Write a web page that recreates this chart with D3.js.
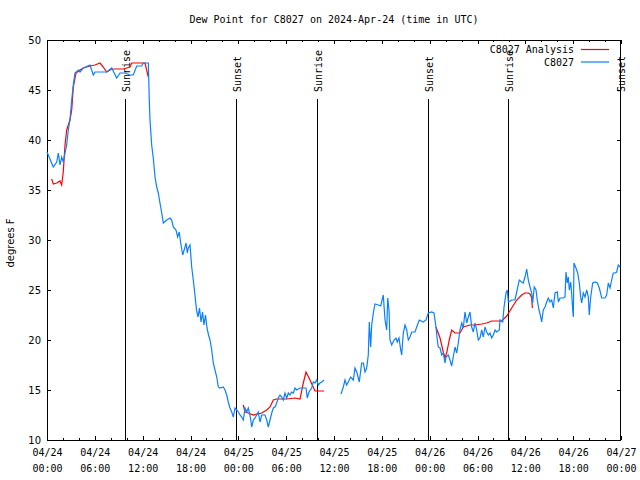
<!DOCTYPE html>
<html>
<head>
<meta charset="utf-8">
<script src="https://cdn.jsdelivr.net/npm/d3@7"></script>
<style>
  html, body { margin: 0; padding: 0; background: #fff; }
  svg { display: block; }
  .mono { font-family: "DejaVu Sans Mono", "Liberation Mono", monospace; font-size: 10px; }
  .sans { font-family: "DejaVu Sans", "Liberation Sans", sans-serif; font-size: 10px; }
</style>
</head>
<body>
<svg id="chart" width="640" height="480"></svg>
<script>
// ---- data (hours since 2024-04-24 00:00 UTC) ----
const startUTC = Date.UTC(2024, 3, 24, 0, 0);
const spanHours = 72;

const obsHours = [
  0, 0.79, 1.22, 1.42, 1.63, 1.84, 2.04, 2.26, 2.47, 2.67,
  2.88, 3.10, 3.30, 3.51, 3.93, 4.14, 4.55, 5.39, 5.81, 6.02,
  7.49, 8.12, 8.74, 9.16, 9.78, 10.41, 10.82, 11.25, 11.88, 12.08,
  12.71, 12.83, 12.92, 13.13, 13.33, 13.55, 13.76, 13.96, 14.17, 14.39,
  14.59, 15.01, 15.43, 15.64, 15.84, 16.18, 16.39, 16.59, 16.77, 17.02,
  17.31, 17.44, 17.60, 17.72, 17.94, 18.15, 18.35, 18.56, 18.75, 18.94,
  19.13, 19.32, 19.51, 19.69, 19.88, 20.07, 20.26, 20.45, 20.66, 20.86,
  21.07, 21.29, 21.49, 21.70, 22.11, 22.33, 22.54, 22.74, 22.95, 23.17,
  23.37, 23.58, 23.80, 24.00, 24.21, 24.42, 24.62, 24.84, 25.05, 25.25,
  25.46, 25.68, 25.88, 26.09, 26.30, 26.50, 26.72, 26.93, 27.34, 27.56,
  27.76, 27.97, 28.19, 28.39, 28.60, 28.81, 29.01, 29.23, 29.44, 29.64,
  29.85, 30.07, 30.27, 30.48, 30.69, 30.90, 31.11, 31.32, 31.74, 32.15,
  32.49, 32.65, 32.86, 33.20, 33.40, 33.62, 33.83, 34.03, 34.24, 34.46,
  34.75, 35.80,
  36.88, 37.17, 37.38, 37.59, 37.79, 38.09, 38.42, 38.63, 38.85, 39.05,
  39.17, 39.47, 39.68, 39.89, 40.10, 40.30, 40.43, 40.60, 40.73, 40.93,
  41.14, 41.56, 41.86, 42.18, 42.40, 42.61, 42.74, 42.90, 43.02, 43.24,
  43.53, 43.78, 43.94, 44.15, 44.37, 44.49, 44.69, 44.91, 45.12, 45.32,
  45.53, 45.75, 46.16, 46.37, 46.70, 47.20, 47.54, 47.83, 48.25, 48.54,
  48.79, 48.96, 49.08, 49.30, 49.51, 49.71, 49.92, 50.05, 50.34, 50.55,
  50.76, 50.96, 51.18, 51.39, 51.59, 51.80, 52.02, 52.22, 52.43, 52.65,
  52.85, 53.06, 53.27, 53.47, 53.69, 53.90, 54.10, 54.31, 54.53, 54.73,
  54.94, 55.15, 55.36, 55.57, 55.78, 55.98, 56.20, 56.41, 56.74, 56.82,
  57.16, 57.33, 57.58, 57.74, 57.87, 58.29, 58.70, 58.92, 59.24, 59.54,
  59.74, 59.96, 60.17, 60.37, 60.59, 60.80, 60.92, 61.12, 61.34, 61.50,
  61.71, 61.93, 62.05, 62.25, 62.47, 62.68, 62.88, 63.09, 63.31, 63.51,
  63.72, 64.01, 64.14, 64.35, 64.76, 64.98, 65.10, 65.26, 65.39, 65.52,
  65.69, 65.82, 65.94, 66.02, 66.10, 66.35, 66.57, 66.77, 66.94, 67.07,
  67.27, 67.48, 67.70, 67.90, 68.02, 68.20, 68.45, 68.74, 69.03, 69.28,
  69.58, 69.99, 70.20, 70.41, 70.62, 70.83, 71.03, 71.25, 71.46, 71.66,
  71.87
];
const obsDewPoint = [
  38.8, 37.3, 37.8, 38.7, 37.5, 38.3, 37.8, 38.7, 39.5, 41,
  42, 44, 45.5, 46.7, 47, 46.8, 47.2, 47.5, 46.5, 46.8,
  46.8, 47.2, 46.2, 46.7, 46.7, 46.5, 46.5, 47.4, 47.4, 47.7,
  47.7, 44, 42, 39.5, 38.2, 36.3, 35.3, 34.7, 33.7, 32.7,
  31.7, 32, 32.2, 32, 31.3, 31, 30.3, 30.8, 29.7, 28.5,
  29.3, 29.7, 28.7, 29.2, 29.5, 27.3, 26, 24.5, 23, 22.3,
  23.2, 21.8, 22.8, 21.5, 22.5, 21.2, 20.5, 20, 19, 17.7,
  17, 16.3, 15.3, 15.2, 15.3, 15, 14.5, 13.8, 13.2, 12.8,
  12.3, 13.2, 13, 12.8, 12.5, 12.3, 12, 13.2, 12.8, 13.2,
  12.5, 11.3, 12, 12.2, 12.5, 12.8, 11.8, 12.5, 12.5, 12,
  11.3, 12, 12.7, 13.2, 13.3, 13.7, 14.2, 14.5, 14.3, 14,
  14.7, 14.2, 14.7, 14.5, 14.8, 14.7, 15.2, 15, 15.2, 15.2,
  15.2, 14.2, 14.8, 15.2, 15.8, 15.7, 16, 15.5, 15.7, 15.8,
  16, null,
  14.6, 15.3, 16, 15.5, 15.8, 16.3, 16, 17.2, 16.8, 16.2,
  15.8, 17.7, 17.7, 16.8, 17.2, 18.5, 21.8, 19.3, 21.5, 22.7,
  23.6, 23.5, 23.4, 24.5, 22, 21, 24.2, 23, 20, 19.5,
  20, 20.2, 19.8, 20.2, 19, 18.5, 20.7, 21.5, 21, 20,
  20.3, 20.8, 20.8, 21.3, 22, 21.8, 22, 22.7, 22.8, 22.7,
  21.3, 20, 19.3, 19.2, 18.5, 18.7, 17.7, 18.3, 18.5, 18,
  17.4, 18.3, 19.3, 18.7, 19.7, 21, 21.7, 21.2, 22.8, 21.7,
  22.3, 22.8, 21.3, 20.8, 21.7, 21, 20, 20.2, 21, 20.3,
  21.3, 20.8, 20.5, 20.7, 20.2, 20.5, 21, 20.8, 21, 22,
  21.8, 23.3, 24.7, 25, 23.8, 24, 24, 24.8, 26, 25.8,
  25.7, 26.3, 27.1, 26, 25.3, 24.7, 23.7, 25.3, 25, 24,
  23, 22.3, 21.8, 23, 23.3, 23.8, 24.2, 23.8, 24, 23.2,
  24.7, 24.8, 23.8, 24.2, 24.2, 24.3, 26.8, 25.7, 26.3, 25,
  25.8, 24.5, 23, 22.3, 27.7, 27.2, 26.7, 25.7, 24.3, 23.7,
  24.7, 24.3, 25, 24.3, 22.5, 24.3, 25.7, 25.8, 25.7, 25.2,
  24.2, 24.2, 24.5, 25.7, 25.2, 26, 26.7, 26.7, 26.8, 27.5,
  27.3
];

const anaHours = [
  0.59, 0.79, 1.22, 1.63, 1.84, 2.04, 2.26, 2.47, 2.88, 3.10,
  3.30, 3.64, 4.14, 4.55, 5.39, 6.02, 6.65, 7.06, 7.49, 8.12,
  9.57, 10.41, 10.62, 12.29, 12.71, 18.00,
  24.62, 24.84, 25.25, 25.88, 26.93, 27.56, 27.97, 28.39, 28.81, 30.07,
  31.11, 31.74, 32.15, 32.49, 32.99, 33.62, 34.75, 40.00,
  48.79, 49.30, 49.71, 49.92, 50.13, 50.46, 50.76, 51.18, 51.80, 52.22,
  53.06, 53.69, 54.53, 55.15, 55.78, 57.04, 57.67, 58.29, 58.92, 59.54,
  59.96, 60.37, 60.59, 60.80, 60.88
];
const anaDewPoint = [
  36.1, 35.6, 35.7, 35.9, 35.5, 36.8, 39.5, 41, 42, 43,
  45.3, 46.7, 47, 47.2, 47.4, 47.5, 47.7, 47.3, 46.8, 47.1,
  47.1, 47.3, 47.7, 47.7, 46.3, null,
  13.5, 12.8, 12.7, 12.5, 12.7, 13, 13.3, 14, 14.1, 14.1,
  14.2, 14.1, 15.7, 16.8, 16, 14.9, 14.9, null,
  21.3, 20.2, 18.8, 18.2, 18.7, 20, 21, 20.7, 20.7, 21.3,
  21.5, 21.5, 21.6, 21.7, 21.9, 21.9, 22.4, 23.2, 24, 24.5,
  24.7, 24.7, 24.6, 24.2, 23.2
];

const sunriseHours = [9.82, 33.92, 57.88];
const sunsetHours = [23.78, 47.84, 71.98];
const yTicks = [10, 15, 20, 25, 30, 35, 40, 45, 50];
const seriesNames = ["C8027 Analysis", "C8027"];
const seriesColors = ["#ff0000", "#0a80ff"];
const titleText = "Dew Point for C8027 on 2024-Apr-24 (time in UTC)";
const yLabel = "degrees F";

// ---- build ----
const toDate = h => new Date(startUTC + h * 3600e3);
const obs = obsHours.map((h, i) => ({ t: toDate(h), v: obsDewPoint[i] }));
const ana = anaHours.map((h, i) => ({ t: toDate(h), v: anaDewPoint[i] }));

const L = 47, R = 621, T = 40, B = 440;
const svg = d3.select("#chart");
const x = d3.scaleUtc().domain([toDate(0), toDate(spanHours)]).range([L, R]);
const y = d3.scaleLinear().domain([10, 50]).range([B, T]);

// title
svg.append("text").attr("class", "mono")
  .attr("x", (L + R) / 2).attr("y", 23).attr("text-anchor", "middle")
  .text(titleText);

// y label
svg.append("text").attr("class", "sans")
  .attr("transform", `translate(14,${(T + B) / 2 + 3}) rotate(-90)`)
  .attr("text-anchor", "middle").text(yLabel);

// axes
const gx = svg.append("g").attr("transform", `translate(0,${B})`);
gx.call(d3.axisBottom(x).ticks(d3.utcHour.every(2)).tickSize(-2).tickFormat(""));
gx.select(".domain").remove();
const gxM = svg.append("g").attr("transform", `translate(0,${B})`);
gxM.call(d3.axisBottom(x).ticks(d3.utcHour.every(6)).tickSize(-4));
gxM.select(".domain").remove();
gxM.selectAll(".tick text").each(function (d) {
  const t = d3.select(this).attr("dy", null).attr("y", null).text(null)
    .attr("class", "mono").attr("font-family", null).attr("font-size", null);
  t.append("tspan").attr("x", 0).attr("y", 16).text(d3.utcFormat("%m/%d")(d));
  t.append("tspan").attr("x", 0).attr("y", 32).text(d3.utcFormat("%H:%M")(d));
});
gx.attr("font-family", null); gxM.attr("font-family", null).attr("font-size", null);

const gt = svg.append("g").attr("transform", `translate(0,${T})`);
gt.call(d3.axisTop(x).ticks(d3.utcHour.every(2)).tickSize(-2).tickFormat(""));
gt.select(".domain").remove();
const gtM = svg.append("g").attr("transform", `translate(0,${T})`);
gtM.call(d3.axisTop(x).ticks(d3.utcHour.every(6)).tickSize(-4).tickFormat(""));
gtM.select(".domain").remove();

const gy = svg.append("g").attr("transform", `translate(${L},0)`);
gy.call(d3.axisLeft(y).tickValues(yTicks).tickSize(-4).tickPadding(6));
gy.select(".domain").remove();
gy.attr("font-family", null).attr("font-size", null);
gy.selectAll(".tick text").attr("class", "sans");

const gyR = svg.append("g").attr("transform", `translate(${R},0)`);
gyR.call(d3.axisRight(y).tickValues(yTicks).tickSize(-4).tickFormat(""));
gyR.select(".domain").remove();

svg.selectAll(".tick line").attr("stroke", "#000").attr("shape-rendering", "crispEdges");

// frame
svg.append("rect").attr("x", L + 0.5).attr("y", T + 0.5)
  .attr("width", R - L - 1).attr("height", B - T)
  .attr("fill", "none").attr("stroke", "#000").attr("shape-rendering", "crispEdges");

// sunrise / sunset markers
const events = sunriseHours.map(h => ({ h, name: "Sunrise" }))
  .concat(sunsetHours.map(h => ({ h, name: "Sunset" })));
const ev = svg.append("g");
events.forEach(e => {
  const px = Math.min(x(toDate(e.h)), R);
  ev.append("line").attr("x1", px).attr("x2", px).attr("y1", 99).attr("y2", B)
    .attr("stroke", "#000").attr("stroke-width", 1.2).attr("shape-rendering", "crispEdges");
  ev.append("text").attr("class", "mono")
    .attr("transform", `translate(${px + 4.5},92) rotate(-90)`)
    .attr("text-anchor", "start").text(e.name);
});

// lines
const line = d3.line().defined(d => d.v !== null).x(d => x(d.t)).y(d => y(d.v));
svg.append("path").datum(ana).attr("d", line).attr("fill", "none")
  .attr("stroke", seriesColors[0]).attr("stroke-width", 1.2);
svg.append("path").datum(obs).attr("d", line).attr("fill", "none")
  .attr("stroke", seriesColors[1]).attr("stroke-width", 1.2);

// legend
const lg = svg.append("g");
seriesNames.forEach((name, i) => {
  const yy = 49.5 + i * 12.5;
  lg.append("text").attr("class", "mono").attr("x", 574).attr("y", yy + 3.5)
    .attr("text-anchor", "end").text(name);
  lg.append("line").attr("x1", 581).attr("x2", 609).attr("y1", yy).attr("y2", yy)
    .attr("stroke", seriesColors[i]).attr("stroke-width", 1.2);
});
</script>
</body>
</html>
